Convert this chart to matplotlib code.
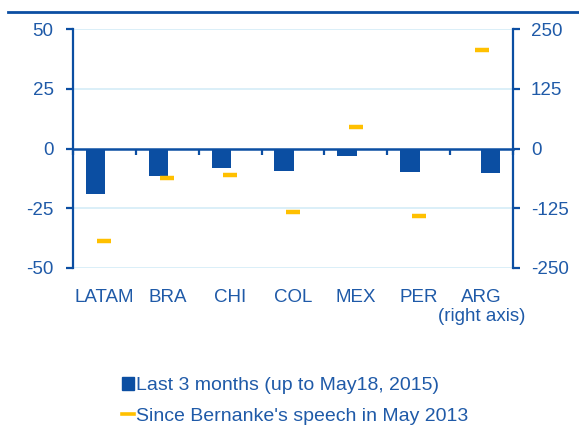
import matplotlib
matplotlib.use("Agg")
import matplotlib.pyplot as plt
from matplotlib.patches import Rectangle
from matplotlib.lines import Line2D
import numpy as np

plt.rcParams['font.family'] = ['Liberation Sans', 'DejaVu Sans']
plt.rcParams['axes.unicode_minus'] = False

categories = ["LATAM", "BRA", "CHI", "COL", "MEX", "PER", "ARG"]
last3m_left = [-19.0, -11.7, -8.2, -9.3, -3.0, -10.0]       # left axis
last3m_arg_right = -51.0                                     # right axis
since_bernanke_left = [-38.6, -12.3, -11.0, -26.6, 9.1, -28.3]  # left axis
since_bernanke_arg_right = 207.0                            # right axis
left_ticks = [-50, -25, 0, 25, 50]
right_ticks = [-250, -125, 0, 125, 250]

BLUE = "#0B4EA2"
TXT = "#1F5AA8"
GOLD = "#FFC000"
GRID = "#D4ECF7"

fig = plt.figure(figsize=(5.79, 4.26), dpi=100)
ax = fig.add_axes([73/579, 1-268/426, 440/579, 239/426])
ax2 = ax.twinx()

x = np.arange(len(categories))
bw = 0.31
off = 0.14

ax.set_xlim(-0.5, len(categories) - 0.5)
ax.set_ylim(-50, 50)
ax2.set_ylim(-250, 250)

for t in [-50, -25, 25, 50]:
    ax.axhline(t, color=GRID, lw=1.2, zorder=0)

ax.bar(x[:6] - off, last3m_left, width=bw, color=BLUE, zorder=3)
ax2.bar(x[6] + off, last3m_arg_right, width=bw, color=BLUE, zorder=3)
ax.plot(x[:6], since_bernanke_left, linestyle='none', marker='_', ms=10, mew=3.2, color=GOLD, zorder=4)
ax2.plot([x[6]], [since_bernanke_arg_right], linestyle='none', marker='_', ms=10, mew=3.2, color=GOLD, zorder=4)

# spines
for a in (ax, ax2):
    a.spines['top'].set_visible(False)
ax.spines['right'].set_visible(False)
ax2.spines['left'].set_visible(False)
ax2.spines['bottom'].set_visible(False)
ax.spines['left'].set_color(BLUE)
ax.spines['left'].set_linewidth(1.6)
ax2.spines['right'].set_color(BLUE)
ax2.spines['right'].set_linewidth(1.6)
ax.spines['bottom'].set_position(('data', 0))
ax.spines['bottom'].set_color(BLUE)
ax.spines['bottom'].set_linewidth(1.8)
ax.spines['bottom'].set_zorder(5)

ax.set_yticks(left_ticks)
ax.set_yticklabels([str(t) for t in left_ticks])
ax2.set_yticks(right_ticks)
ax2.set_yticklabels([str(t) for t in right_ticks])
ax.tick_params(axis='y', direction='out', length=5, width=1.6, color=BLUE, labelcolor=TXT, labelsize=13.5, pad=9)
ax2.tick_params(axis='y', direction='out', length=5, width=1.6, color=BLUE, labelcolor=TXT, labelsize=13.5, pad=8)

ax.set_xticks(np.arange(-0.5, len(categories)), minor=False)
ax.set_xticklabels([])
ax.tick_params(axis='x', direction='out', length=4, width=1.6, color=BLUE)

for i, c in enumerate(categories):
    ax.text(i, -0.125, c, transform=ax.get_xaxis_transform(), ha='center', va='center',
            color=TXT, fontsize=13.5)
ax.text(6, -0.205, "(right axis)", transform=ax.get_xaxis_transform(), ha='center', va='center',
        color=TXT, fontsize=13.5)

# top rule line
fig.add_artist(Line2D([8/579, 1], [1-12/426, 1-12/426], color=BLUE, lw=2))

handles = [Rectangle((0, 0), 1, 1, color=BLUE),
           Line2D([], [], color=GOLD, lw=2.6)]
labels = ["Last 3 months (up to May18, 2015)", "Since Bernanke's speech in May 2013"]
leg = fig.legend(handles, labels, loc='upper left', bbox_to_anchor=(122/579, 1-377/426),
                 frameon=False, fontsize=14, handlelength=0.62, handleheight=0.62,
                 handletextpad=0.12, labelspacing=0.68, borderpad=0, borderaxespad=0)
for t in leg.get_texts():
    t.set_color(TXT)

fig.savefig("out.png", dpi=100)
